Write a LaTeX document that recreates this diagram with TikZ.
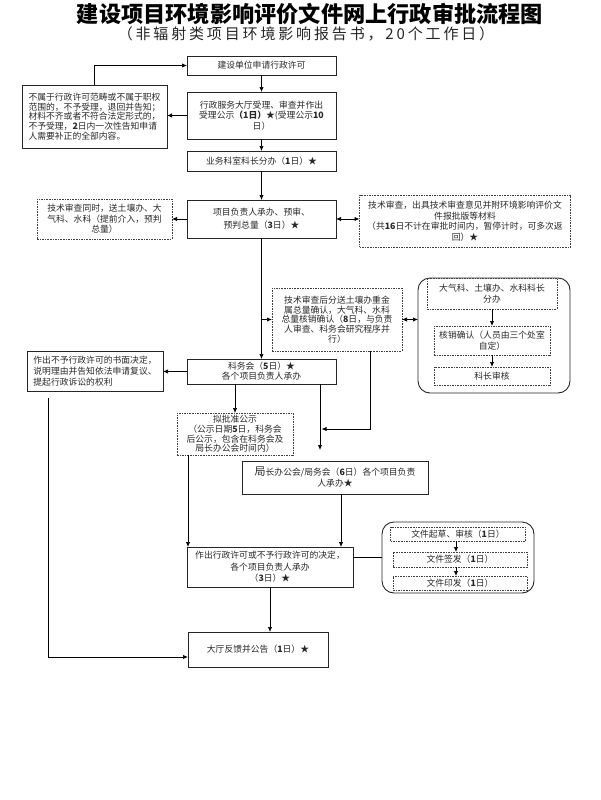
\documentclass[tikz,border=0pt]{standalone}
\usepackage{fontspec}
\setmainfont{Noto Sans CJK SC}
\usetikzlibrary{arrows.meta,calc}
\definecolor{txt}{RGB}{40,40,40}
\begin{document}
\begin{tikzpicture}[x=1pt,y=-1pt,
  every node/.style={inner sep=0pt, outer sep=0pt, font=\fontsize{8.8}{10.5}\selectfont, text=txt, align=center},
  sz/.style 2 args={minimum width=#1pt, minimum height=#2pt},
  box/.style={draw=black!85, line width=0.8pt},
  dbox/.style={draw=black!75, line width=0.8pt, dash pattern=on 1.6pt off 1pt},
  cont/.style={draw=black!85, line width=0.9pt, rounded corners=12pt},
  arr/.style={line width=0.7pt, -{Latex[length=5pt,width=4.2pt]}},
  arrb/.style={line width=0.7pt, {Latex[length=5pt,width=4.2pt]}-{Latex[length=5pt,width=4.2pt]}},
  ln/.style={line width=0.7pt}]
\useasboundingbox (0,0) rectangle (600,800);

\node (title) at (310,14) {\fontsize{22.2}{23}\selectfont\bfseries\color{black}建设项目环境影响评价文件网上行政审批流程图};
\node (sub) at (306,34) {\fontsize{15}{16}\selectfont\addfontfeature{LetterSpace=19}\color{black!85}（非辐射类项目环境影响报告书，20个工作日）};

% main column
\node[box, sz={149}{19}] (b1) at (261.5,65.5) {建设单位申请行政许可};
\node[box, sz={149}{47}] (b2) at (261.5,115.5) {行政服务大厅受理、审查并作出\\受理公示\textbf{（1日）}★(受理公示\textbf{10}\\日）};
\node[box, sz={149}{20}] (b3) at (261.5,161) {业务科室科长分办（\textbf{1}日）★};
\node[box, sz={149}{38}, font=\fontsize{8.8}{13}\selectfont] (b4) at (261.5,219) {项目负责人承办、预审、\\预判总量（\textbf{3}日）★};
\node[box, sz={149}{25}, font=\fontsize{8.8}{10}\selectfont] (K) at (261.5,371.5) {科务会（\textbf{5}日）★\\各个项目负责人承办};

% left boxes
\node[box, sz={145}{63}, align=left, font=\fontsize{8.8}{9.6}\selectfont] (L1) at (94.5,116.5) {不属于行政许可范畴或不属于职权\\范围的，不予受理，退回并告知；\\材料不齐或者不符合法定形式的，\\不予受理，\textbf{2}日内一次性告知申请\\人需要补正的全部内容。};
\node[dbox, sz={135}{40}, font=\fontsize{8.8}{10.5}\selectfont] (L2) at (104.5,219) {技术审查同时，送土壤办、大\\气科、水科（提前介入，预判\\总量）};
\node[box, sz={136}{40}, align=left, font=\fontsize{8.8}{10.8}\selectfont] (L3) at (95,371) {作出不予行政许可的书面决定，\\说明理由并告知依法申请复议、\\提起行政诉讼的权利};

% right boxes
\node[dbox, sz={211}{52}, font=\fontsize{8.8}{10.6}\selectfont] (R1) at (465,221) {技术审查，出具技术审查意见并附环境影响评价文\\件报批版等材料\\（共\textbf{16}日不计在审批时间内，暂停计时，可多次返\\回）★};
\node[dbox, sz={130}{63}, font=\fontsize{8.8}{9.8}\selectfont] (M1) at (337,319.5) {技术审查后分送土壤办重金\\属总量确认，大气科、水科\\总量核销确认（\textbf{8}日，与负责\\人审查、科务会研究程序并\\行）};

\node[cont, sz={152}{115}] (C1) at (494,335.5) {};
\node[dbox, sz={130}{31}, font=\fontsize{8.8}{10.5}\selectfont] (C1a) at (492,293.5) {大气科、土壤办、水科科长\\分办};
\node[dbox, sz={116}{29}, font=\fontsize{8.8}{10.5}\selectfont] (C1b) at (492,340.5) {核销确认（人员由三个处室\\自定）};
\node[dbox, sz={116}{18}] (C1c) at (492,376) {科长审核};

\node[dbox, sz={116}{42}, font=\fontsize{8.8}{9.8}\selectfont] (P) at (235,434) {拟批准公示\\（公示日期\textbf{5}日，科务会\\后公示，包含在科务会及\\局长办公会时间内）};
\node[box, sz={186}{33}, font=\fontsize{8.8}{11}\selectfont] (J) at (335,477.5) {{\fontsize{11}{11}\selectfont 局}长办公会/局务会（\textbf{6}日）各个项目负责\\人承办★};
\node[box, sz={166}{40}, font=\fontsize{8.8}{11.5}\selectfont] (Z) at (270,567) {作出行政许可或不予行政许可的决定，\\各个项目负责人承办\\（\textbf{3}日）★};

\node[cont, sz={152}{71}] (C2) at (458,557.5) {};
\node[dbox, sz={135}{14}] (C2a) at (458,534) {文件起草、审核（\textbf{1}日）};
\node[dbox, sz={134}{15}] (C2b) at (460,559.5) {文件签发（\textbf{1}日）};
\node[dbox, sz={134}{14}] (C2c) at (460,583) {文件印发（\textbf{1}日）};

\node[box, sz={140}{35}] (D) at (258,649.5) {大厅反馈并公告（\textbf{1}日）★};

% connectors
\draw[arr] (L1.north) |- (b1.west);
\draw[arr] (b1) -- (b2);
\draw[arr] (b2.west) -- (b2.west -| L1.east);
\draw[arr] (b2) -- (b3);
\draw[arr] (b3) -- (b4);
\draw[arr] (b4.west) -- (b4.west -| L2.east);
\draw[arrb] (b4.east) -- (b4.east -| R1.west);
\draw[arr] (b4) -- (K);
\draw[arr] (b4.south |- M1.west) -- (M1.west);
\draw[arrb] (M1.east) -- (M1.east -| C1.west);
\draw[arr] (C1a) -- (C1b);
\draw[arr] (C1b) -- (C1c);
\draw[arr] (K.west) -- (K.west -| L3.east);
\draw[arr] ([xshift=-47pt,yshift=-7pt]L3.south) |- ([yshift=-7.5pt]D.west);
\draw[arr] (K.south -| P.north) -- (P.north);
\coordinate (kj) at ($(K.south)+(58.5,0)$);
\coordinate (kje) at ($(J.north)+(-15,-11)$);
\draw[arr] (kj) -- (kje);
\coordinate (mjoin) at ($(kj)+(1.5,45)$);
\draw[arr] ($(M1.south)+(33,0)$) |- (mjoin);
\draw[arr] ([xshift=11pt]P.south west) -- ([xshift=1pt]Z.north west);
\draw[arr] ([xshift=6pt]J.south) -- ([xshift=6pt]J.south |- Z.north);
\draw[ln] ([yshift=10pt]Z.east) -- ([yshift=10pt]Z.east -| C2.west);
\draw[arr] ([xshift=-2pt]C2a.south) -- ([xshift=-2pt]C2a.south |- C2b.north);
\draw[arr] ([xshift=-4pt]C2b.south) -- ([xshift=-4pt]C2b.south |- C2c.north);
\draw[arr] (Z.south) -- (Z.south |- D.north);
\end{tikzpicture}
\end{document}
